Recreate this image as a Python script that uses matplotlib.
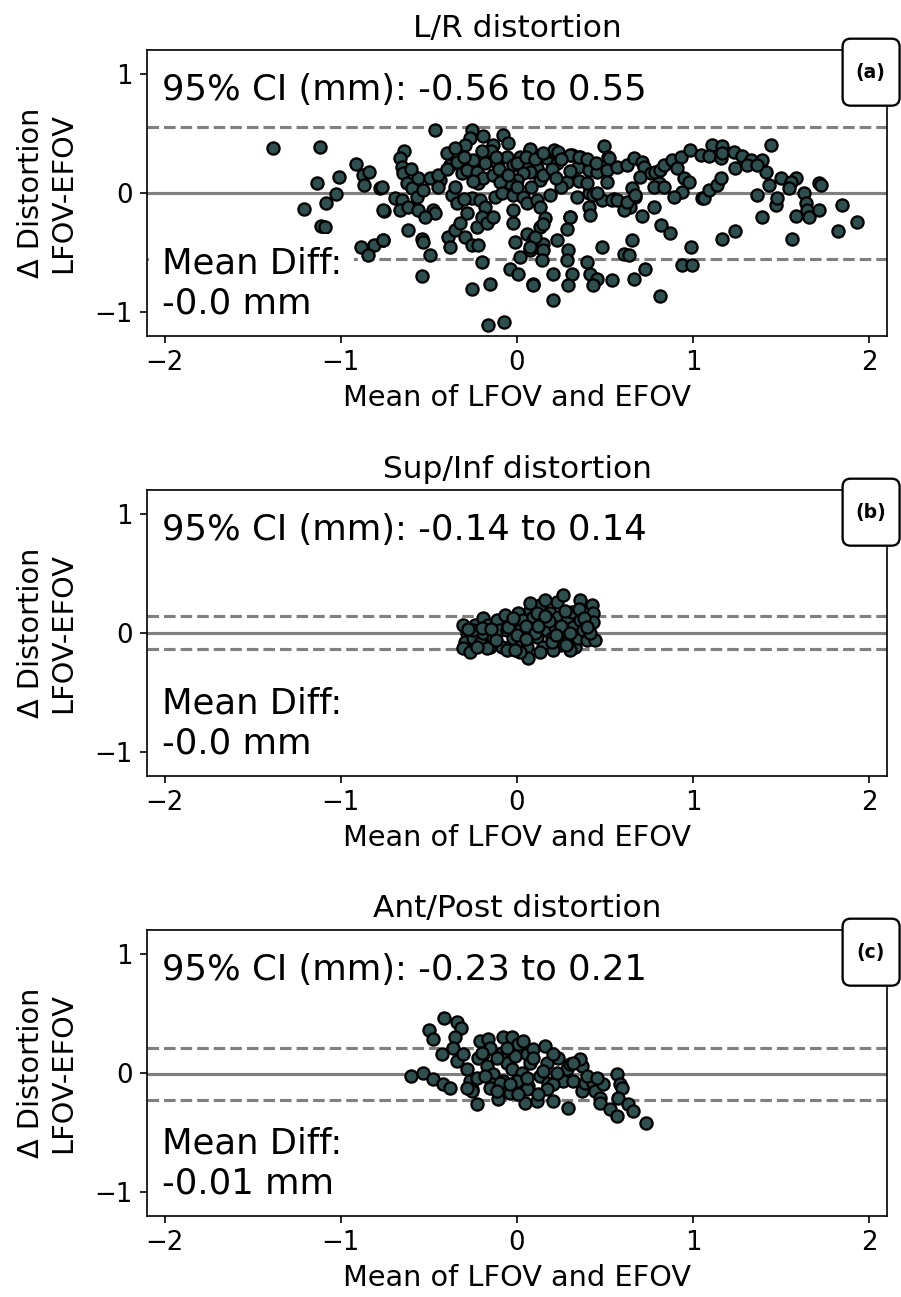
import matplotlib
matplotlib.use("Agg")
import matplotlib.pyplot as plt
from matplotlib.patches import FancyBboxPatch

# Bland-Altman data: (mean of LFOV and EFOV, LFOV - EFOV)
lr_pts = [
    (-1.387, 0.374), (-1.118, 0.388), (-0.913, 0.239), (-1.008, 0.129), (-1.135, 0.084),
    (-1.207, -0.138), (-1.084, -0.084), (-1.027, -0.011), (-1.112, -0.278), (-1.09, -0.287),
    (-0.875, 0.149), (-0.838, 0.177), (-0.866, 0.065), (-0.775, 0.042), (-0.756, -0.152),
    (-0.885, -0.456), (-0.809, -0.442), (-0.762, -0.399), (-0.847, -0.526),
    (-0.466, 0.524), (-0.257, 0.524), (-0.267, 0.459), (-0.191, 0.479), (-0.077, 0.487),
    (-0.049, 0.417), (-0.134, 0.403), (-0.295, 0.403), (-0.642, 0.355), (-0.664, 0.29),
    (-0.655, 0.22), (-0.645, 0.164), (-0.627, 0.079), (-0.598, 0.037), (-0.56, 0.121),
    (-0.494, 0.121), (-0.437, 0.107), (-0.399, 0.332), (-0.38, 0.234), (-0.342, 0.262),
    (-0.314, 0.163), (-0.286, 0.192), (-0.248, 0.276), (-0.229, 0.178), (-0.219, 0.079),
    (-0.191, 0.121), (-0.181, 0.248), (-0.134, 0.149), (-0.115, 0.248), (-0.058, 0.304),
    (-0.02, 0.234), (0.018, 0.304), (0.074, 0.36), (0.055, 0.206), (0.112, 0.206),
    (0.131, 0.107), (0.169, 0.29), (0.207, 0.346), (0.226, 0.248), (0.283, 0.093),
    (0.311, 0.318), (0.358, 0.304), (0.349, 0.22), (0.406, 0.192), (0.453, 0.178),
    (0.491, 0.389), (0.51, 0.192), (0.519, 0.304), (0.51, 0.093), (0.567, 0.22),
    (0.074, 0.178), (0.036, 0.163), (-0.001, 0.107), (-0.039, 0.079), (-0.096, 0.093),
    (-0.768, 0.045), (-0.693, -0.047), (-0.759, -0.146), (-0.655, -0.061), (-0.664, -0.146),
    (-0.617, -0.118), (-0.56, -0.146), (-0.475, -0.146), (-0.465, -0.174), (-0.522, -0.202),
    (-0.57, -0.033), (-0.532, 0.023), (-0.371, -0.019), (-0.342, -0.089), (-0.257, -0.047),
    (-0.286, -0.174), (-0.21, -0.061), (-0.181, -0.118), (-0.124, -0.033), (-0.087, -0.005),
    (-0.02, -0.019), (0.036, -0.033), (0.055, -0.089), (0.112, -0.061), (0.131, -0.118),
    (0.188, -0.019), (0.34, -0.033), (0.406, -0.005), (0.434, -0.019), (0.481, -0.061),
    (0.548, -0.056), (0.406, -0.118), (0.415, -0.188), (0.302, -0.202),
    (-0.617, -0.315), (-0.541, -0.385), (-0.532, -0.413), (-0.494, -0.526), (-0.541, -0.70),
    (-0.759, -0.399), (-0.39, -0.371), (-0.38, -0.455), (-0.352, -0.315), (-0.323, -0.258),
    (-0.295, -0.371), (-0.257, -0.441), (-0.219, -0.441), (-0.229, -0.286), (-0.2, -0.202),
    (-0.172, -0.258), (-0.134, -0.202), (-0.2, -0.582), (-0.257, -0.813), (-0.153, -0.77),
    (-0.02, -0.146), (-0.02, -0.258), (-0.011, -0.413), (-0.039, -0.638), (0.008, -0.68),
    (0.055, -0.343), (0.093, -0.399), (0.112, -0.455), (0.074, -0.483), (0.15, -0.427),
    (0.16, -0.216), (0.131, -0.286), (0.15, -0.483), (0.141, -0.568), (0.018, -0.54),
    (0.093, -0.77), (0.207, -0.686), (0.207, -0.905), (0.226, -0.399), (0.283, -0.301),
    (0.302, -0.202), (0.292, -0.483), (0.283, -0.568), (0.311, -0.68), (0.292, -0.779),
    (0.396, -0.582), (0.415, -0.68), (0.453, -0.722), (0.481, -0.455), (0.538, -0.737),
    (0.434, -0.779), (-0.165, -1.11), (-0.074, -1.09),
    (0.52, 0.29), (0.625, 0.234), (0.663, 0.29), (0.71, 0.262), (0.72, 0.22),
    (0.70, 0.135), (0.653, 0.037), (0.672, -0.034), (0.758, 0.163), (0.786, 0.177),
    (0.814, 0.191), (0.833, 0.234), (0.881, 0.276), (0.928, 0.304), (0.909, 0.205),
    (0.947, 0.121), (0.975, 0.093), (0.938, 0.008), (0.89, -0.034), (0.805, 0.079),
    (0.777, 0.051), (0.833, 0.051), (1.05, -0.048),
    (1.44, 0.40), (1.108, 0.40), (1.165, 0.394), (0.981, 0.36), (1.042, 0.318),
    (1.089, 0.31), (1.155, 0.29), (1.165, 0.332), (1.231, 0.346), (1.278, 0.31),
    (1.326, 0.276), (1.392, 0.276), (1.411, 0.177), (1.24, 0.205), (1.307, 0.233),
    (1.364, 0.233), (1.496, 0.121), (1.581, 0.121), (1.553, 0.093), (1.714, 0.084),
    (1.723, 0.065), (1.43, 0.065), (1.544, 0.037), (1.629, -0.006), (1.638, -0.09),
    (1.648, -0.146), (1.657, -0.2), (1.714, -0.146), (1.468, -0.104), (1.477, -0.048),
    (1.364, -0.02), (1.392, -0.2), (1.581, -0.194), (1.563, -0.385), (1.847, -0.104),
    (1.928, -0.245), (1.822, -0.321), (1.165, -0.385), (1.235, -0.32), (1.061, -0.048),
    (1.089, 0.022), (1.136, 0.065), (1.155, 0.121),
    (0.985, -0.456), (0.938, -0.61), (0.994, -0.61), (0.814, -0.872), (0.818, -0.273),
    (0.867, -0.337), (0.777, -0.118), (0.71, -0.197), (0.729, -0.638), (0.663, -0.723),
    (0.653, -0.394), (0.606, -0.512), (0.634, -0.526), (0.644, -0.118), (0.606, -0.146),
    (0.076, 0.37), (0.21, 0.36), (0.23, 0.34), (0.30, 0.32), (0.35, 0.30),
    (0.455, 0.0), (0.54, -0.06), (0.568, -0.06), (0.625, -0.075), (0.672, -0.02),
    (0.10, -0.37), (0.076, -0.455), (0.15, -0.26), (0.091, -0.779),
    (-0.45, 0.15), (-0.4, 0.2), (-0.35, 0.05), (-0.3, 0.3), (-0.25, 0.1),
    (-0.15, 0.35), (-0.1, 0.2), (-0.05, 0.15), (0.0, 0.25), (0.05, 0.3),
    (0.1, 0.28), (0.15, 0.15), (0.2, 0.2), (0.25, 0.28), (0.3, 0.18),
    (0.35, 0.1), (0.4, 0.28), (0.45, 0.25), (0.25, 0.05), (-0.2, 0.35),
    (-0.3, -0.05), (0.0, 0.05), (-0.45, 0.05), (-0.6, 0.2), (0.22, 0.12),
    (0.08, 0.05), (-0.12, 0.3), (0.4, 0.08), (0.15, 0.33), (-0.35, 0.38),
]

si_pts = [
    (-0.305, 0.065), (-0.286, -0.005), (-0.295, -0.075), (-0.305, -0.132), (-0.267, -0.16),
    (-0.239, 0.065), (-0.248, -0.047), (-0.21, -0.089), (-0.191, 0.122), (-0.191, -0.005),
    (-0.163, 0.065), (-0.153, -0.118), (-0.134, -0.047), (-0.115, 0.107), (-0.097, 0.023),
    (-0.087, -0.118), (-0.068, 0.15), (-0.059, 0.023), (-0.04, -0.118), (-0.03, 0.079),
    (-0.021, -0.047), (0.008, 0.164), (0.017, 0.023), (0.036, 0.107), (0.026, -0.089),
    (0.055, -0.118), (0.074, 0.192), (0.083, 0.051), (0.064, -0.216), (0.093, 0.136),
    (0.112, -0.033), (0.131, 0.234), (0.14, 0.107), (0.15, -0.118), (0.169, 0.023),
    (0.188, 0.164), (0.197, -0.047), (0.216, 0.051), (0.225, 0.262), (0.235, 0.136),
    (0.244, -0.104), (0.263, 0.318), (0.263, 0.009), (0.282, 0.107), (0.292, -0.061),
    (0.311, 0.178), (0.32, 0.051), (0.33, -0.118), (0.348, -0.047), (0.358, 0.276),
    (0.358, 0.107), (0.377, 0.023), (0.396, -0.061), (0.424, 0.234), (0.434, 0.164),
    (0.434, 0.093), (0.443, -0.061), (0.415, -0.005), (-0.059, -0.146), (0.017, -0.16),
    (0.131, -0.16), (-0.172, -0.132), (-0.229, -0.118), (0.301, -0.146), (0.206, -0.146),
    (0.112, 0.164), (0.159, 0.276), (0.074, 0.248), (-0.011, -0.146),
    (-0.25, 0.02), (-0.2, 0.04), (-0.12, -0.06), (-0.05, 0.05), (0.0, -0.02),
    (0.05, 0.06), (0.1, 0.0), (0.12, 0.06), (0.18, 0.1), (0.2, -0.08),
    (0.25, 0.06), (0.27, 0.18), (0.3, 0.0), (0.35, 0.2), (0.38, 0.12),
    (0.4, 0.05), (-0.28, 0.03), (-0.15, 0.03), (0.22, -0.02), (0.05, -0.05),
    (-0.02, 0.12), (0.28, -0.1), (0.16, 0.14),
]

ap_pts = [
    (-0.413, 0.46), (-0.343, 0.423), (-0.32, 0.375), (-0.498, 0.361), (-0.476, 0.283),
    (-0.352, 0.297), (-0.428, 0.156), (-0.599, -0.027), (-0.532, 0.001), (-0.476, -0.055),
    (-0.419, -0.097), (-0.381, -0.131), (-0.362, 0.212), (-0.343, 0.1), (-0.305, 0.156),
    (-0.286, 0.029), (-0.267, -0.069), (-0.258, -0.139), (-0.229, -0.26), (-0.21, 0.269),
    (-0.163, 0.283), (-0.191, 0.156), (-0.22, 0.128), (-0.173, 0.058), (-0.135, -0.013),
    (-0.144, -0.097), (-0.106, -0.224), (-0.078, 0.297), (-0.03, 0.297), (-0.087, 0.17),
    (-0.059, 0.086), (-0.012, 0.142), (-0.03, 0.029), (-0.078, -0.069), (-0.04, -0.167),
    (0.007, 0.24), (0.055, 0.156), (0.026, 0.001), (0.074, 0.086), (0.064, -0.111),
    (0.045, -0.252), (0.112, -0.238), (0.093, 0.198), (0.159, 0.226), (0.169, 0.086),
    (0.13, -0.027), (0.178, -0.083), (0.206, -0.238), (0.235, 0.128), (0.282, 0.029),
    (0.301, 0.072), (0.263, -0.069), (0.32, -0.069), (0.367, 0.058), (0.358, 0.114),
    (0.292, -0.294), (0.367, -0.153), (0.386, -0.083), (0.433, -0.083), (0.443, -0.153),
    (0.471, -0.209), (0.49, -0.097), (0.471, -0.252), (0.528, -0.308), (0.566, -0.364),
    (0.566, -0.013), (0.585, -0.097), (0.594, -0.125), (0.576, -0.209), (0.632, -0.266),
    (0.661, -0.322), (0.733, -0.42), (0.206, -0.097), (0.055, -0.139), (0.169, -0.139),
    (-0.229, -0.041), (-0.182, -0.027), (-0.258, -0.153), (-0.154, -0.125), (-0.097, -0.083),
    (-0.002, -0.069), (0.055, -0.041), (0.121, -0.181), (-0.286, -0.125), (-0.116, -0.153),
    (-0.04, -0.097), (0.007, -0.181), (-0.154, 0.212), (-0.116, 0.128), (-0.059, 0.212),
    (0.036, 0.269), (0.093, 0.128), (0.206, 0.156), (0.32, 0.086), (-0.201, 0.17),
    (0.149, 0.015), (0.225, 0.001), (0.396, -0.027), (0.452, -0.041),
]

titles = ["L/R distortion", "Sup/Inf distortion", "Ant/Post distortion"]
panel_tags = ["(a)", "(b)", "(c)"]
ci_low = [-0.56, -0.14, -0.23]
ci_high = [0.55, 0.14, 0.21]
mean_diff = [-0.0, -0.0, -0.01]
mean_text = ["-0.0", "-0.0", "-0.01"]
ci_text = [("-0.56", "0.55"), ("-0.14", "0.14"), ("-0.23", "0.21")]

W, H = 901, 1297
fig = plt.figure(figsize=(W / 150, H / 150), dpi=150)

ax_left, ax_w, ax_h = 147, 740, 285.5
ax_tops = [50, 490, 930]

for i, pts in enumerate([lr_pts, si_pts, ap_pts]):
    top = ax_tops[i]
    ax = fig.add_axes([ax_left / W, 1 - (top + ax_h) / H, ax_w / W, ax_h / H])
    xs = [p[0] for p in pts]
    ys = [p[1] for p in pts]
    ax.scatter(xs, ys, s=34, c="darkslategray", edgecolors="black", linewidths=1.1, zorder=2)
    ax.axhline(mean_diff[i], color="gray", lw=1.5, zorder=1)
    ax.axhline(ci_low[i], color="gray", ls="--", lw=1.5, zorder=1)
    ax.axhline(ci_high[i], color="gray", ls="--", lw=1.5, zorder=1)

    ax.set_xlim(-2.1, 2.1)
    ax.set_ylim(-1.2, 1.2)
    ax.set_xticks([-2, -1, 0, 1, 2])
    ax.set_yticks([-1, 0, 1])
    ax.tick_params(labelsize=12.5)
    ax.set_title(titles[i], fontsize=15)
    ax.set_xlabel("Mean of LFOV and EFOV", fontsize=13.8)
    ax.set_ylabel("Δ Distortion\nLFOV-EFOV", fontsize=13.8, labelpad=8)

    # white boxes behind the annotations, kept under the spines
    lo, hi = ci_text[i]
    box = dict(boxstyle="square,pad=0.35", fc="white", ec="none")
    ax.text(0.02, 0.825, f"95% CI (mm): {lo} to {hi}", transform=ax.transAxes,
            fontsize=17, va="baseline", ha="left", bbox=box, zorder=2.3)
    ax.text(0.02, 0.054, f"Mean Diff:\n{mean_text[i]} mm", transform=ax.transAxes,
            fontsize=17, va="bottom", ha="left", bbox=box, zorder=2.3)

    aspect = ax_w / ax_h
    tag_box = FancyBboxPatch((0.940, 0.805), 0.077, 0.2346,
                             boxstyle="round,pad=0,rounding_size=0.0108",
                             mutation_aspect=aspect, transform=ax.transAxes,
                             fc="white", ec="black", lw=1.1, clip_on=False, zorder=5)
    ax.add_patch(tag_box)
    ax.text(0.978, 0.922, panel_tags[i], transform=ax.transAxes, fontsize=9,
            fontweight="bold", ha="center", va="center", zorder=6)

fig.savefig("out.png", dpi=150)
